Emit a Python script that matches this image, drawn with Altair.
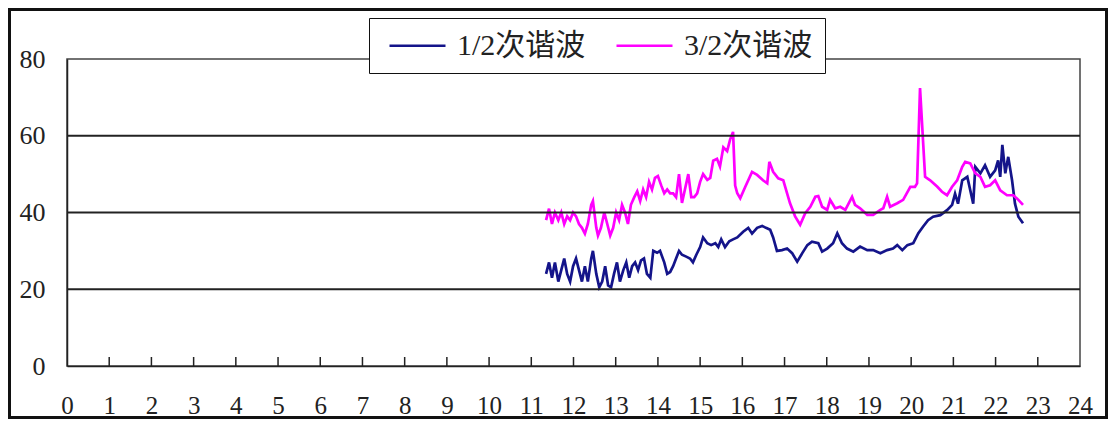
import altair as alt
import pandas as pd

# ---- data ----
half_hours = [11.35, 11.42, 11.49, 11.56, 11.64, 11.71, 11.78, 11.85, 11.92, 11.99,
              12.06, 12.13, 12.2, 12.27, 12.34, 12.42, 12.46, 12.54, 12.61, 12.68,
              12.75, 12.82, 12.89, 12.96, 13.03, 13.1, 13.18, 13.25, 13.32, 13.39,
              13.46, 13.53, 13.6, 13.67, 13.74, 13.82, 13.89, 13.98, 14.05, 14.15,
              14.22, 14.29, 14.36, 14.43, 14.5, 14.57, 14.67, 14.76, 14.83, 14.91,
              15.0, 15.07, 15.17, 15.26, 15.36, 15.43, 15.5, 15.59, 15.69, 15.78,
              15.88, 16.02, 16.14, 16.23, 16.35, 16.47, 16.56, 16.66, 16.73, 16.82,
              16.94, 17.06, 17.18, 17.3, 17.42, 17.54, 17.65, 17.8, 17.89, 18.01,
              18.15, 18.25, 18.36, 18.48, 18.63, 18.79, 18.96, 19.1, 19.27, 19.43,
              19.57, 19.67, 19.79, 19.91, 20.05, 20.17, 20.28, 20.4, 20.52, 20.69,
              20.85, 20.97, 21.04, 21.11, 21.21, 21.33, 21.4, 21.47, 21.52, 21.64,
              21.75, 21.87, 21.99, 22.06, 22.11, 22.16, 22.23, 22.3, 22.39, 22.46,
              22.54, 22.65]
half_values = [24, 27, 23, 27, 22, 25, 28, 24, 22, 26,
               28, 25, 22, 26, 22, 28, 30, 24, 20.5, 22,
               26, 21, 20.5, 24, 27, 22, 25, 27, 23, 26,
               27, 25, 27.5, 28, 24, 23, 30, 29.5, 30, 27,
               24, 24.5, 26, 28, 30, 29, 28.5, 28, 27, 29,
               31, 33.5, 32, 31.5, 32, 31, 33, 31, 32.5, 33,
               33.5, 35, 36, 34.5, 36, 36.5, 36, 35.5, 33.5, 30,
               30.2, 30.6, 29.4, 27.2, 29.4, 31.5, 32.4, 32, 29.8, 30.6,
               32, 34.6, 32, 30.6, 29.8, 31.1, 30.2, 30.2, 29.4, 30.2,
               30.6, 31.5, 30.2, 31.5, 32, 34.6, 36.3, 38, 38.9, 39.3,
               40.6, 42, 44.9, 42.3, 48.4, 49.3, 45.8, 42.3, 51.9, 50.2,
               52.3, 49.3, 51, 53.6, 49.3, 57.6, 50.2, 54.5, 48.4, 42.3,
               38.9, 37.2]

three_half_hours = [11.35, 11.42, 11.49, 11.56, 11.64, 11.71, 11.78, 11.85, 11.92, 11.99,
                    12.06, 12.13, 12.2, 12.27, 12.34, 12.42, 12.46, 12.54, 12.58, 12.65,
                    12.73, 12.8, 12.87, 12.94, 13.01, 13.08, 13.15, 13.22, 13.29, 13.36,
                    13.44, 13.51, 13.58, 13.65, 13.72, 13.79, 13.86, 13.93, 14.0, 14.08,
                    14.15, 14.22, 14.29, 14.36, 14.43, 14.5, 14.57, 14.64, 14.72, 14.79,
                    14.86, 14.93, 15.0, 15.07, 15.17, 15.24, 15.31, 15.4, 15.47, 15.55,
                    15.64, 15.71, 15.78, 15.83, 15.88, 15.95, 16.07, 16.23, 16.35, 16.49,
                    16.59, 16.64, 16.73, 16.85, 16.97, 17.13, 17.25, 17.37, 17.49, 17.61,
                    17.73, 17.8, 17.89, 18.01, 18.08, 18.2, 18.32, 18.44, 18.6, 18.67,
                    18.79, 18.96, 19.1, 19.27, 19.34, 19.43, 19.5, 19.67, 19.81, 19.98,
                    20.09, 20.14, 20.21, 20.33, 20.45, 20.62, 20.73, 20.85, 20.97, 21.09,
                    21.21, 21.28, 21.4, 21.52, 21.64, 21.75, 21.87, 21.99, 22.11, 22.27,
                    22.42, 22.54, 22.65]
three_half_values = [38, 41, 37, 40, 38, 40, 37, 39, 38, 40,
                     39, 37, 36, 34.5, 37, 42, 43, 36, 34, 36,
                     40, 37, 34, 36, 40, 38, 42, 40, 37, 42,
                     44, 45.5, 43, 46, 44, 48, 46, 49, 49.5, 47,
                     45, 46, 45, 45, 44, 50, 42.5, 46, 50, 44,
                     44, 45, 48, 50, 48.5, 49, 53.5, 54, 52, 57,
                     56, 59, 61, 47, 45, 43.7, 46.7, 50.6, 49.8, 48.4,
                     47.6, 53.2, 50.6, 48.9, 48.4, 42.4, 39, 36.8, 39.8, 41.5,
                     44.1, 44.3, 41.5, 40.7, 43.3, 41.1, 41.5, 40.7, 44.1, 42,
                     41.1, 39.4, 39.4, 40.7, 41.1, 44.1, 41.5, 42.4, 43.3, 46.7,
                     46.7, 47.6, 72.4, 49.3, 48.4, 46.7, 45.4, 44.5, 46.7, 48.4,
                     51.9, 53.2, 52.8, 50.2, 49.3, 46.7, 47.1, 48.4, 45.8, 44.5,
                     44.5, 43.3, 42]

series_names = ["1/2次谐波", "3/2次谐波"]
series_colors = ["#14148a", "#ff00ff"]
x_ticks = list(range(0, 25))
y_ticks = [0, 20, 40, 60, 80]
grid_levels = [20, 40, 60]
inner_ticks = list(range(1, 24))

df = pd.concat([
    pd.DataFrame({"hour": half_hours, "value": half_values, "series": series_names[0]}),
    pd.DataFrame({"hour": three_half_hours, "value": three_half_values, "series": series_names[1]}),
])

W, H = 1013, 307
PL, PT, PR, PB = 59, 51, 28, 53
SERIF = "Liberation Serif, Noto Sans CJK SC"

xscale = alt.Scale(domain=[0, 24], nice=False)
yscale = alt.Scale(domain=[0, 80], nice=False)

x_axis = alt.Axis(values=x_ticks, title=None, tickSize=0, labelPadding=27,
                  labelFont=SERIF, labelFontSize=25, labelColor="#222",
                  domainColor="#222", domainWidth=1.5, grid=False,
                  labelOverlap=False, labelFlush=False)
y_axis = alt.Axis(values=y_ticks, title=None, tickSize=0, labelPadding=22,
                  labelFont=SERIF, labelFontSize=26, labelColor="#222",
                  domainColor="#222", domainWidth=1.5, grid=False,
                  labelFlush=False)

lines = alt.Chart(df).mark_line(strokeWidth=2.7, interpolate="linear").encode(
    x=alt.X("hour:Q", scale=xscale, axis=x_axis),
    y=alt.Y("value:Q", scale=yscale, axis=y_axis),
    color=alt.Color("series:N",
                    scale=alt.Scale(domain=series_names, range=series_colors),
                    legend=alt.Legend(title=None, orient="none", legendX=302, legendY=-41,
                                      direction="horizontal", strokeColor="#111",
                                      fillColor="white", padding=12,
                                      labelFont=SERIF, labelFontSize=30, labelColor="#222",
                                      symbolType="M-0.5,0L3.5,0", symbolSize=784,
                                      symbolStrokeWidth=2.7, columnPadding=22,
                                      labelOffset=45)),
)

grid = alt.Chart(pd.DataFrame({"g": grid_levels})).mark_rule(
    color="#222", strokeWidth=2
).encode(y=alt.Y("g:Q", scale=yscale, axis=y_axis))

ticks = alt.Chart(pd.DataFrame({"t": inner_ticks})).mark_rule(
    color="#222", strokeWidth=1.5
).encode(
    x=alt.X("t:Q", scale=xscale, axis=x_axis),
    y=alt.value(H), y2=alt.value(H - 9),
)

frame = alt.Chart(pd.DataFrame({"a": [0]})).mark_rect(
    fill=None, stroke="#111", strokeWidth=3
).encode(
    x=alt.value(-PL + 1.5), x2=alt.value(W + PR - 1.5),
    y=alt.value(-PT + 1.5), y2=alt.value(H + PB - 1.5),
)

chart = alt.layer(lines, grid, ticks, frame).properties(
    width=W, height=H,
    autosize=alt.AutoSizeParams(type="none"),
    padding={"left": PL, "top": PT, "right": PR, "bottom": PB},
    background="white",
).configure_view(stroke="#444", strokeWidth=1.5)

chart.save("out.html", embed_options={"renderer": "svg", "actions": False})
